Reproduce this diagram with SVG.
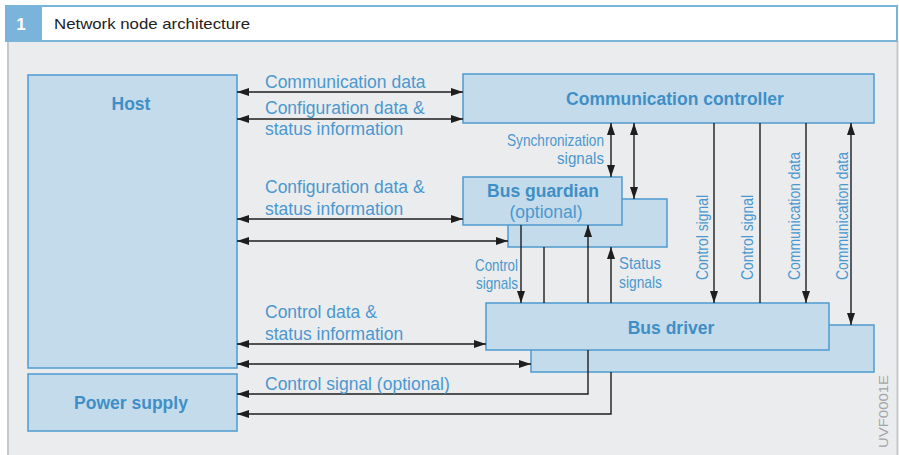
<svg xmlns="http://www.w3.org/2000/svg" width="899" height="455" viewBox="0 0 899 455">
<style>
.box{fill:#c3dbea;stroke:#4f9bcf;stroke-width:1.5}
.bl{font-family:"Liberation Sans",Arial,sans-serif;font-weight:bold;font-size:17.5px;fill:#3f8fc6;text-anchor:middle}
.lb{font-family:"Liberation Sans",Arial,sans-serif;font-size:17.5px;fill:#4a98cf}
.sm{font-family:"Liberation Sans",Arial,sans-serif;font-size:17px;fill:#4a98cf}
.cn{fill:none;stroke:#1e1e1e;stroke-width:1.4}
</style>
<defs>
<marker id="ah" viewBox="0 0 12 8" refX="12" refY="4" markerWidth="12" markerHeight="8" markerUnits="userSpaceOnUse" orient="auto-start-reverse">
<path d="M0,0 L12,4 L0,8 z" fill="#1e1e1e"/>
</marker>
</defs>
<rect x="0" y="0" width="899" height="455" fill="#ffffff"/>
<g id="frame">
<rect x="7" y="41" width="891" height="414" fill="#ebeced"/>
<line x1="8" y1="41" x2="8" y2="455" stroke="#c6c8ca" stroke-width="2"/>
<line x1="897.5" y1="41" x2="897.5" y2="455" stroke="#c6c8ca" stroke-width="2"/>
<rect x="41" y="6" width="856" height="35" fill="#ffffff" stroke="#7ab4da" stroke-width="2"/>
<rect x="5" y="5" width="36" height="37" fill="#7ab4da"/>
<text x="21" y="30" font-family="Liberation Sans,Arial,sans-serif" font-weight="bold" font-size="17" fill="#ffffff" text-anchor="middle">1</text>
<text x="54" y="29" font-family="Liberation Sans,Arial,sans-serif" font-size="14.5" fill="#222222" textLength="196" lengthAdjust="spacingAndGlyphs">Network node architecture</text>
</g>
<g id="host">
<rect class="box" x="28" y="75" width="209" height="293"/>
<text class="bl" x="131" y="110">Host</text>
</g>
<g id="power-supply">
<rect class="box" x="28" y="374" width="209" height="57"/>
<text class="bl" x="131" y="409">Power supply</text>
</g>
<g id="communication-controller">
<rect class="box" x="463" y="74" width="411" height="49"/>
<text class="bl" x="675" y="105">Communication controller</text>
</g>
<g id="bus-guardian">
<rect class="box" x="508" y="199" width="159" height="48"/>
<rect class="box" x="463" y="177" width="159" height="48"/>
<text class="bl" x="543" y="197">Bus guardian</text>
<text class="lb" x="546" y="218" text-anchor="middle">(optional)</text>
</g>
<g id="bus-driver">
<rect class="box" x="531" y="325" width="343" height="47"/>
<rect class="box" x="486" y="303" width="343" height="47"/>
<text class="bl" x="671" y="334">Bus driver</text>
</g>
<g id="connectors">
<path class="cn" d="M237,92 H463" marker-start="url(#ah)" marker-end="url(#ah)"/>
<path class="cn" d="M237,119 H463" marker-start="url(#ah)" marker-end="url(#ah)"/>
<path class="cn" d="M237,219 H463" marker-start="url(#ah)" marker-end="url(#ah)"/>
<path class="cn" d="M237,241 H508" marker-start="url(#ah)" marker-end="url(#ah)"/>
<path class="cn" d="M237,344 H486" marker-start="url(#ah)" marker-end="url(#ah)"/>
<path class="cn" d="M237,364 H531" marker-start="url(#ah)" marker-end="url(#ah)"/>
<path class="cn" d="M588,350 V394 H237" marker-end="url(#ah)"/>
<path class="cn" d="M611,372 V414 H237" marker-end="url(#ah)"/>
<path class="cn" d="M611,123 V177" marker-start="url(#ah)" marker-end="url(#ah)"/>
<path class="cn" d="M634,123 V199" marker-start="url(#ah)" marker-end="url(#ah)"/>
<path class="cn" d="M521,225 V303" marker-end="url(#ah)"/>
<path class="cn" d="M544,247 V303"/>
<path class="cn" d="M588,303 V225" marker-end="url(#ah)"/>
<path class="cn" d="M611,303 V247" marker-end="url(#ah)"/>
<path class="cn" d="M714,123 V303" marker-end="url(#ah)"/>
<path class="cn" d="M760,123 V303"/>
<path class="cn" d="M806,123 V303" marker-end="url(#ah)"/>
<path class="cn" d="M851,123 V325" marker-start="url(#ah)" marker-end="url(#ah)"/>
</g>
<g id="labels">
<text class="lb" x="265" y="88">Communication data</text>
<text class="lb" x="265" y="114">Configuration data &amp;</text>
<text class="lb" x="265" y="135">status information</text>
<text class="lb" x="265" y="193">Configuration data &amp;</text>
<text class="lb" x="265" y="215">status information</text>
<text class="lb" x="265" y="318">Control data &amp;</text>
<text class="lb" x="265" y="340">status information</text>
<text class="lb" x="265" y="390">Control signal (optional)</text>
<text class="sm" x="507" y="146" textLength="97" lengthAdjust="spacingAndGlyphs">Synchronization</text>
<text class="sm" x="557" y="164" textLength="47" lengthAdjust="spacingAndGlyphs">signals</text>
<text class="sm" x="475" y="271" textLength="43" lengthAdjust="spacingAndGlyphs">Control</text>
<text class="sm" x="476" y="289" textLength="42" lengthAdjust="spacingAndGlyphs">signals</text>
<text class="sm" x="619" y="269" textLength="42" lengthAdjust="spacingAndGlyphs">Status</text>
<text class="sm" x="619" y="288" textLength="43" lengthAdjust="spacingAndGlyphs">signals</text>
<text class="sm" transform="translate(708,280) rotate(-90)" textLength="85" lengthAdjust="spacingAndGlyphs">Control signal</text>
<text class="sm" transform="translate(753,280) rotate(-90)" textLength="85" lengthAdjust="spacingAndGlyphs">Control signal</text>
<text class="sm" transform="translate(800,280) rotate(-90)" textLength="128" lengthAdjust="spacingAndGlyphs">Communication data</text>
<text class="sm" transform="translate(848,280) rotate(-90)" textLength="128" lengthAdjust="spacingAndGlyphs">Communication data</text>
<text transform="translate(888,448) rotate(-90)" font-family="Liberation Sans,Arial,sans-serif" font-size="13.5" fill="#a3a5a8" textLength="73" lengthAdjust="spacingAndGlyphs">UVF0001E</text>
</g>
</svg>
